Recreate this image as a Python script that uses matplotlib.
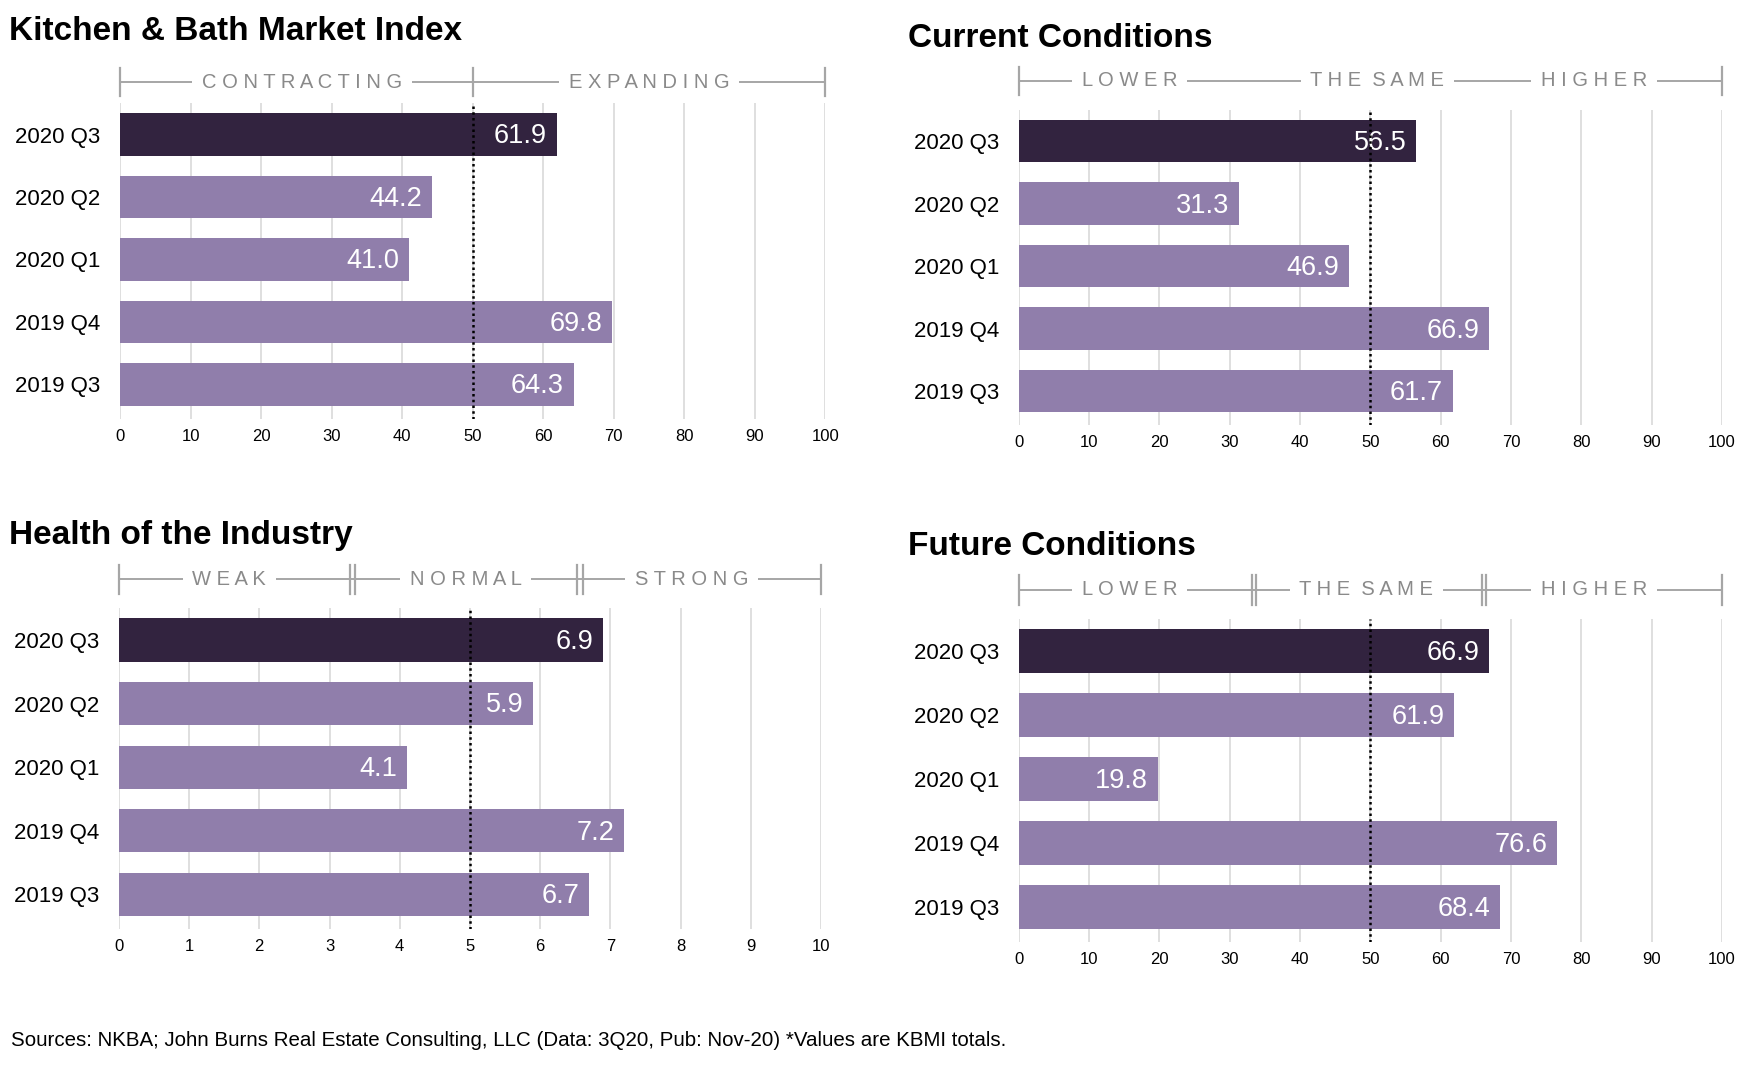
import matplotlib.pyplot as plt
from matplotlib.transforms import blended_transform_factory

plt.rcParams['font.family'] = ['Liberation Sans', 'DejaVu Sans']

# data
categories = ["2020 Q3", "2020 Q2", "2020 Q1", "2019 Q4", "2019 Q3"]
kbmi_values = [61.9, 44.2, 41.0, 69.8, 64.3]
current_values = [56.5, 31.3, 46.9, 66.9, 61.7]
health_values = [6.9, 5.9, 4.1, 7.2, 6.7]
future_values = [66.9, 61.9, 19.8, 76.6, 68.4]

titles = ["Kitchen & Bath Market Index", "Current Conditions",
          "Health of the Industry", "Future Conditions"]
header_kbmi = [("CONTRACTING", 25.8), ("EXPANDING", 75.0)]
header_current = [("LOWER", 15.8), ("THE SAME", 51.0), ("HIGHER", 81.8)]
header_health = [("WEAK", 1.57), ("NORMAL", 4.94), ("STRONG", 8.16)]
header_future = [("LOWER", 15.8), ("THE SAME", 49.4), ("HIGHER", 81.8)]

footer = ("Sources: NKBA; John Burns Real Estate Consulting, LLC "
          "(Data: 3Q20, Pub: Nov-20) *Values are KBMI totals.")

DARK = '#32233f'
LIGHT = '#907eab'
GRID = '#d9d9d9'
HEAD = '#8a8a8a'

W, H = 1568.0, 965.0  # layout measured on a scaled copy

fig = plt.figure(figsize=(17.42, 10.72), dpi=100)


def make_axes(left, right, top, bottom):
    return fig.add_axes([left / W, 1 - bottom / H, (right - left) / W, (bottom - top) / H])


def draw_panel(ax, values, xmax, mid, header, caps, head_y):
    ypos = list(range(len(categories)))
    colors = [DARK] + [LIGHT] * (len(values) - 1)
    ax.barh(ypos, values, height=0.68, color=colors, zorder=2)
    ax.set_xlim(0, xmax)
    ax.set_ylim(4.55, -0.5)
    ax.set_yticks(ypos)
    ax.set_yticklabels(categories, fontsize=16)
    step = xmax / 10
    ticks = [step * i for i in range(11)]
    ax.set_xticks(ticks)
    ax.set_xticklabels([str(int(round(t))) for t in ticks], fontsize=12)
    ax.tick_params(axis='y', length=0, pad=14)
    ax.tick_params(axis='x', length=0, pad=7)
    for t in ticks:
        ax.axvline(t, color=GRID, lw=1.2, zorder=1)
    for s in ax.spines.values():
        s.set_visible(False)
    ax.axvline(mid, color='black', lw=1.8, ls=(0, (1.0, 1.3)), zorder=5)
    for y, v in zip(ypos, values):
        ax.text(v - xmax * 0.014, y + 0.03, f"{v:.1f}", color='white', fontsize=19.5,
                ha='right', va='center', zorder=4)

    # bracket header above the plot
    tr = blended_transform_factory(ax.transData, ax.transAxes)
    ax.plot([0, xmax], [head_y, head_y], color='#a6a6a6', lw=1.4,
            transform=tr, clip_on=False)
    for c in caps:
        ax.plot([c, c], [head_y - 0.045, head_y + 0.045], color='#a6a6a6', lw=1.6,
                transform=tr, clip_on=False)
    for label, cx in header:
        ax.text(cx, head_y, " ".join(label).replace("   ", "  "), transform=tr,
                ha='center', va='center', fontsize=14.5, color=HEAD,
                bbox=dict(facecolor='white', edgecolor='none', pad=7))


ax1 = make_axes(108, 743, 93, 377)
draw_panel(ax1, kbmi_values, 100, 50, header_kbmi, [0, 50, 100], 1.067)

ax2 = make_axes(917, 1550, 99, 383)
draw_panel(ax2, current_values, 100, 50, header_current, [0, 100], 1.092)

ax3 = make_axes(107, 739, 547.5, 836.5)
draw_panel(ax3, health_values, 10, 5, header_health, [0, 3.29, 3.37, 6.53, 6.61, 10], 1.09)

ax4 = make_axes(917, 1550, 557, 848)
draw_panel(ax4, future_values, 100, 50, header_future, [0, 33.2, 33.8, 65.9, 66.5, 100], 1.089)

title_pos = [(8, 28), (817, 35), (8, 482), (817, 492)]
for t, (px, py) in zip(titles, title_pos):
    fig.text(px / W, 1 - py / H, t, fontsize=24, fontweight='bold', ha='left', va='center')

fig.text(10 / W, 1 - 937 / H, footer, fontsize=14.8, ha='left', va='center')

fig.savefig('out.png', dpi=100, facecolor='white')
